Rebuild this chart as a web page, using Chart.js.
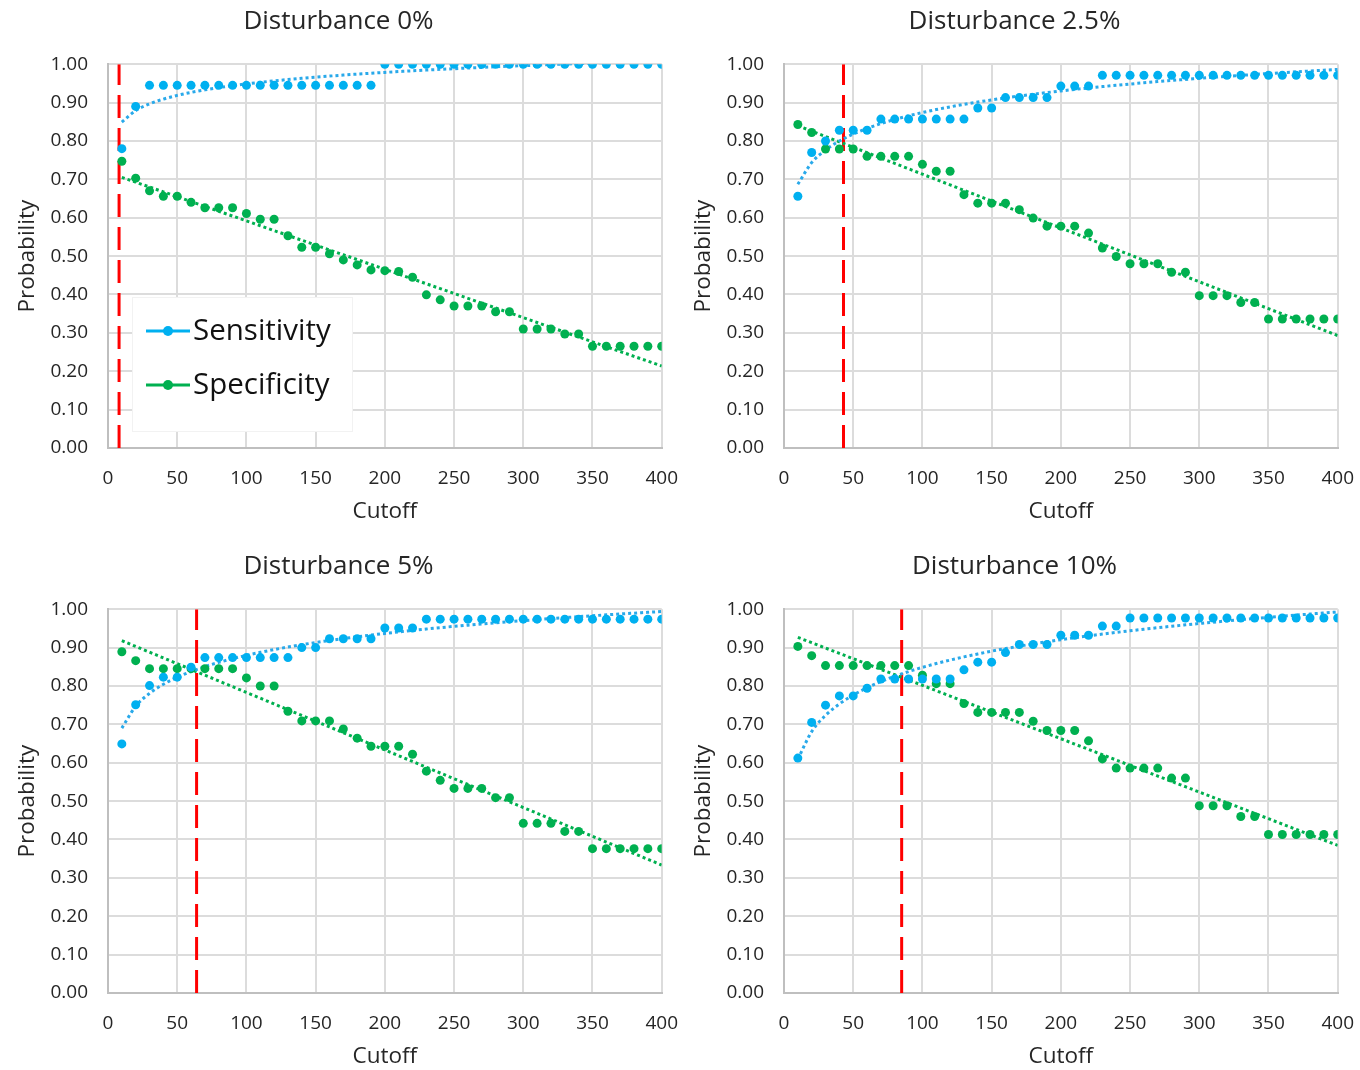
<!DOCTYPE html>
<html lang="en">
<head>
  <meta charset="UTF-8">
  <title>Sensitivity and Specificity vs Cutoff</title>
  <script src="https://cdn.jsdelivr.net/npm/chart.js"></script>
  <style>
    body {
      margin: 0;
      background: #fff;
      overflow: hidden;
    }
    canvas {
      position: absolute;
    }
    #c0 { left: 0; top: 0; }
    #c1 { left: 676px; top: 0; }
    #c2 { left: 0; top: 545px; }
    #c3 { left: 676px; top: 545px; }
  </style>
</head>
<body>
  <canvas id="c0" width="680" height="535"></canvas>
  <canvas id="c1" width="680" height="535"></canvas>
  <canvas id="c2" width="680" height="535"></canvas>
  <canvas id="c3" width="680" height="535"></canvas>

  <script>
    // cutoff values on the x axis
    const cutoffs = [10, 20, 30, 40, 50, 60, 70, 80, 90, 100,
      110, 120, 130, 140, 150, 160, 170, 180, 190, 200,
      210, 220, 230, 240, 250, 260, 270, 280, 290, 300,
      310, 320, 330, 340, 350, 360, 370, 380, 390, 400];

    const titles = ["Disturbance 0%", "Disturbance 2.5%", "Disturbance 5%", "Disturbance 10%"];
    const yTicks = [0, 0.1, 0.2, 0.3, 0.4, 0.5, 0.6, 0.7, 0.8, 0.9, 1.0];
    const xTicks = [0, 50, 100, 150, 200, 250, 300, 350, 400];

    // Disturbance 0%
    const sens0 = [0.78, 0.89, 0.945, 0.945, 0.945, 0.945, 0.945, 0.945, 0.945, 0.945,
      0.945, 0.945, 0.945, 0.945, 0.945, 0.945, 0.945, 0.945, 0.945, 1.00,
      1.00, 1.00, 1.00, 1.00, 1.00, 1.00, 1.00, 1.00, 1.00, 1.00,
      1.00, 1.00, 1.00, 1.00, 1.00, 1.00, 1.00, 1.00, 1.00, 1.00];
    const spec0 = [0.747, 0.703, 0.670, 0.656, 0.656, 0.640, 0.626, 0.626, 0.626, 0.611,
      0.596, 0.596, 0.553, 0.523, 0.523, 0.506, 0.490, 0.477, 0.464, 0.462,
      0.460, 0.445, 0.399, 0.386, 0.370, 0.370, 0.370, 0.355, 0.355, 0.310,
      0.310, 0.310, 0.297, 0.297, 0.265, 0.265, 0.265, 0.265, 0.265, 0.265];

    // Disturbance 2.5%
    const sens25 = [0.656, 0.770, 0.800, 0.828, 0.828, 0.828, 0.857, 0.857, 0.857, 0.857,
      0.857, 0.857, 0.857, 0.886, 0.886, 0.913, 0.913, 0.913, 0.913, 0.943,
      0.943, 0.943, 0.971, 0.971, 0.971, 0.971, 0.971, 0.971, 0.971, 0.971,
      0.971, 0.971, 0.971, 0.971, 0.971, 0.971, 0.971, 0.971, 0.971, 0.971];
    const spec25 = [0.843, 0.822, 0.779, 0.779, 0.779, 0.760, 0.760, 0.760, 0.760, 0.739,
      0.721, 0.721, 0.660, 0.638, 0.638, 0.638, 0.621, 0.599, 0.578, 0.578,
      0.578, 0.560, 0.521, 0.499, 0.480, 0.480, 0.480, 0.458, 0.458, 0.397,
      0.397, 0.397, 0.379, 0.379, 0.336, 0.336, 0.336, 0.336, 0.336, 0.336];

    // Disturbance 5%
    const sens5 = [0.649, 0.751, 0.801, 0.823, 0.823, 0.849, 0.874, 0.874, 0.874, 0.874,
      0.874, 0.874, 0.874, 0.900, 0.900, 0.923, 0.923, 0.923, 0.923, 0.951,
      0.951, 0.951, 0.974, 0.974, 0.974, 0.974, 0.974, 0.974, 0.974, 0.974,
      0.974, 0.974, 0.974, 0.974, 0.974, 0.974, 0.974, 0.974, 0.974, 0.974];
    const spec5 = [0.889, 0.866, 0.845, 0.845, 0.845, 0.845, 0.845, 0.845, 0.845, 0.821,
      0.800, 0.800, 0.734, 0.709, 0.709, 0.709, 0.688, 0.664, 0.643, 0.643,
      0.643, 0.622, 0.578, 0.554, 0.533, 0.533, 0.533, 0.509, 0.509, 0.442,
      0.442, 0.442, 0.421, 0.421, 0.376, 0.376, 0.376, 0.376, 0.376, 0.376];

    // Disturbance 10%
    const sens10 = [0.612, 0.705, 0.750, 0.774, 0.774, 0.794, 0.818, 0.818, 0.818, 0.818,
      0.818, 0.818, 0.842, 0.862, 0.862, 0.887, 0.908, 0.908, 0.908, 0.932,
      0.932, 0.932, 0.956, 0.956, 0.977, 0.977, 0.977, 0.977, 0.977, 0.977,
      0.977, 0.977, 0.977, 0.977, 0.977, 0.977, 0.977, 0.977, 0.977, 0.977];
    const spec10 = [0.903, 0.879, 0.853, 0.853, 0.853, 0.853, 0.853, 0.853, 0.853, 0.828,
      0.806, 0.806, 0.754, 0.731, 0.731, 0.731, 0.731, 0.708, 0.684, 0.684,
      0.684, 0.657, 0.610, 0.586, 0.586, 0.586, 0.586, 0.560, 0.560, 0.488,
      0.488, 0.488, 0.460, 0.460, 0.413, 0.413, 0.413, 0.413, 0.413, 0.413];

    // optimal cutoff (red dashed line) per panel
    const optimalCutoffs = [8, 43, 64, 85];

    const BLUE = "#00b0f0";
    const GREEN = "#00b050";
    const RED = "#ff0000";
    const TEXT = "#262626";
    const FONT = '"Open Sans", sans-serif';

    Chart.defaults.font.family = FONT;
    Chart.defaults.color = TEXT;

    // least squares line, used for the Excel-style trendlines
    function linearFit(xs, ys) {
      const n = xs.length;
      let sx = 0, sy = 0, sxx = 0, sxy = 0;
      for (let i = 0; i < n; i++) {
        sx += xs[i]; sy += ys[i];
        sxx += xs[i] * xs[i]; sxy += xs[i] * ys[i];
      }
      const b = (n * sxy - sx * sy) / (n * sxx - sx * sx);
      const a = (sy - b * sx) / n;
      return (x) => a + b * x;
    }

    function logFit(xs, ys) {
      const f = linearFit(xs.map(Math.log), ys);
      return (x) => f(Math.log(x));
    }

    function points(ys) {
      return cutoffs.map((x, i) => ({ x: x, y: ys[i] }));
    }

    // legend drawn inside the plot of the first panel
    const legendItems = [
      { label: "Sensitivity", color: BLUE },
      { label: "Specificity", color: GREEN },
    ];

    const insideLegend = {
      id: "insideLegend",
      afterDatasetsDraw(chart, args, opts) {
        if (!opts.show) return;
        const ctx = chart.ctx;
        ctx.save();
        ctx.fillStyle = "#ffffff";
        ctx.strokeStyle = "#f2f2f2";
        ctx.lineWidth = 1;
        ctx.fillRect(132, 297, 221, 135);
        ctx.strokeRect(132.5, 297.5, 220, 134);
        legendItems.forEach((item, i) => {
          const y = 331 + i * 54;
          ctx.strokeStyle = item.color;
          ctx.lineWidth = 3;
          ctx.beginPath();
          ctx.moveTo(146, y);
          ctx.lineTo(190, y);
          ctx.stroke();
          ctx.fillStyle = item.color;
          ctx.beginPath();
          ctx.arc(168, y, 5, 0, Math.PI * 2);
          ctx.fill();
          ctx.fillStyle = "#111";
          ctx.font = "29.5px " + FONT;
          ctx.textBaseline = "middle";
          ctx.textAlign = "left";
          ctx.fillText(item.label, 193, y + 1);
        });
        ctx.restore();
      },
    };

    const panels = [
      { id: "c0", title: titles[0], sens: sens0, spec: spec0, cut: optimalCutoffs[0], legend: true },
      { id: "c1", title: titles[1], sens: sens25, spec: spec25, cut: optimalCutoffs[1], legend: false },
      { id: "c2", title: titles[2], sens: sens5, spec: spec5, cut: optimalCutoffs[2], legend: false },
      { id: "c3", title: titles[3], sens: sens10, spec: spec10, cut: optimalCutoffs[3], legend: false },
    ];

    function makePanel(p) {
      const sensTrend = logFit(cutoffs, p.sens);
      const specTrend = linearFit(cutoffs, p.spec);
      const ctx = document.getElementById(p.id).getContext("2d");

      new Chart(ctx, {
        type: "scatter",
        data: {
          datasets: [
            {
              label: "Sensitivity",
              data: points(p.sens),
              backgroundColor: BLUE,
              borderColor: BLUE,
              borderWidth: 0,
              pointRadius: 4.5,
            },
            {
              label: "Specificity",
              data: points(p.spec),
              backgroundColor: GREEN,
              borderColor: GREEN,
              borderWidth: 0,
              pointRadius: 4.5,
            },
            {
              type: "line",
              label: "Sensitivity trend",
              data: cutoffs.map((x) => ({ x: x, y: sensTrend(x) })),
              borderColor: "#29a9ea",
              borderWidth: 3,
              borderDash: [3, 3],
              pointRadius: 0,
              cubicInterpolationMode: "monotone",
              fill: false,
            },
            {
              type: "line",
              label: "Specificity trend",
              data: cutoffs.map((x) => ({ x: x, y: specTrend(x) })),
              borderColor: GREEN,
              borderWidth: 3,
              borderDash: [3, 3],
              pointRadius: 0,
              fill: false,
            },
            {
              type: "line",
              label: "Cutoff",
              data: [{ x: p.cut, y: 0 }, { x: p.cut, y: 1 }],
              borderColor: RED,
              borderWidth: 3,
              borderDash: [23, 10],
              pointRadius: 0,
              fill: false,
            },
          ],
        },
        options: {
          responsive: false,
          animation: false,
          layout: { padding: { left: 0, right: 3, top: 0, bottom: 0 } },
          plugins: {
            legend: { display: false },
            tooltip: { enabled: false },
            title: {
              display: true,
              text: p.title,
              color: TEXT,
              font: { size: 26, weight: "normal" },
              padding: { top: 6, bottom: 27 },
            },
            insideLegend: { show: p.legend },
          },
          scales: {
            x: {
              type: "linear",
              min: 0,
              max: 400,
              afterBuildTicks: (scale) => { scale.ticks = xTicks.map((v) => ({ value: v })); },
              ticks: { color: TEXT, padding: 2, font: { size: 19 } },
              grid: {
                color: "#dcdcdc",
                lineWidth: 2,
                drawTicks: true,
                tickLength: 17,
                tickColor: "rgba(0,0,0,0)",
              },
              border: { color: "#bfbfbf", width: 2 },
              title: {
                display: true,
                text: "Cutoff",
                color: TEXT,
                font: { size: 22.5 },
                padding: { top: 0, bottom: 10 },
              },
              afterFit: (scale) => { scale.height = 87; },
            },
            y: {
              min: 0,
              max: 1,
              afterBuildTicks: (scale) => { scale.ticks = yTicks.map((v) => ({ value: v })); },
              ticks: {
                color: TEXT,
                padding: 20,
                font: { size: 19 },
                callback: (v) => v.toFixed(2),
              },
              grid: { color: "#dcdcdc", lineWidth: 2, drawTicks: false },
              border: { color: "#bfbfbf", width: 2 },
              title: {
                display: true,
                text: "Probability",
                color: TEXT,
                font: { size: 22.5 },
                padding: { top: 14, bottom: 0 },
              },
              afterFit: (scale) => { scale.width = 108; },
            },
          },
        },
        plugins: [insideLegend],
      });
    }

    panels.forEach(makePanel);
  </script>
</body>
</html>
